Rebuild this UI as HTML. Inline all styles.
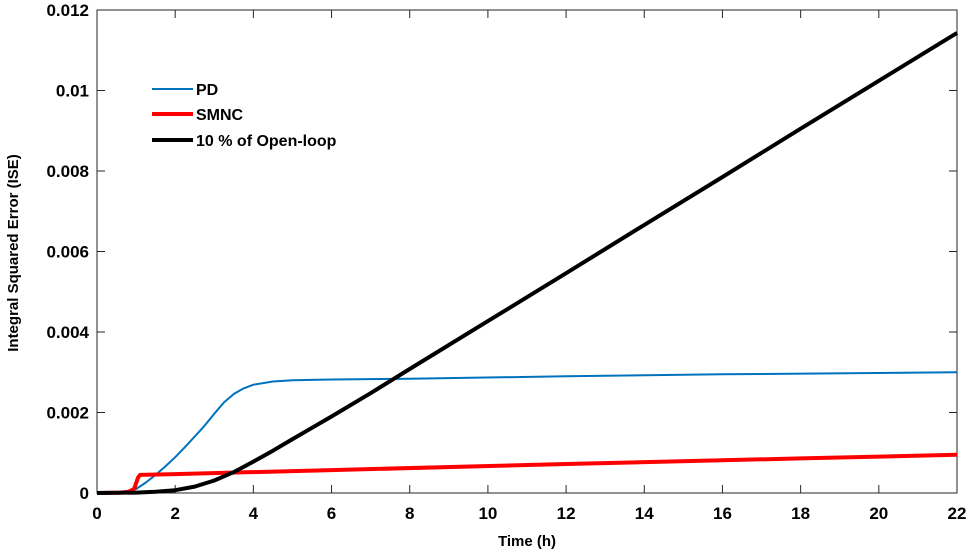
<!DOCTYPE html>
<html><head><meta charset="utf-8"><style>
body{margin:0;background:#fff;}
svg{display:block;font-family:"Liberation Sans",Arial,sans-serif;font-weight:bold;}
</style></head><body>
<svg id="chart" width="972" height="554">
<g id="axes"></g><g id="series"></g>
<g>
<line x1="152" y1="89" x2="193" y2="89" stroke="#0072BD" stroke-width="2"/>
<text x="196" y="95" font-size="16">PD</text>
<line x1="152" y1="114" x2="193" y2="114" stroke="#ff0000" stroke-width="4"/>
<text x="196" y="120" font-size="16">SMNC</text>
<line x1="152" y1="140" x2="193" y2="140" stroke="#000" stroke-width="4"/>
<text x="196" y="146" font-size="16">10 % of Open-loop</text>
</g>
<text x="527" y="546" font-size="15" text-anchor="middle">Time (h)</text>
<text transform="translate(18,253) rotate(-90)" font-size="15" text-anchor="middle">Integral Squared Error (ISE)</text>
</svg>
<script>
const xTicks=[0,2,4,6,8,10,12,14,16,18,20,22];
const yTicks=[0,0.002,0.004,0.006,0.008,0.01,0.012];
const yTickLabels=["0","0.002","0.004","0.006","0.008","0.01","0.012"];
const pdT=[0,0.5,0.7,0.85,1,1.25,1.5,1.75,2,2.25,2.5,2.75,3,3.25,3.5,3.75,4,4.5,5,6,8,12,16,22];
const pdV=[0,0,0.00001,0.00004,0.0001,0.00026,0.00045,0.00066,0.00089,0.00114,0.0014,0.00167,0.00197,0.00225,0.00246,0.0026,0.00269,0.00277,0.0028,0.00282,0.00284,0.0029,0.00295,0.0030];
const smT=[0,0.6,0.8,0.95,1.05,1.1,2,6,12,18,22];
const smV=[0,0.00001,0.00003,0.0001,0.00038,0.00045,0.00047,0.00057,0.00072,0.00086,0.00095];
const olT=[0,1,1.5,2,2.5,3,3.5,4,4.5,5,5.5,6,7,8,10,12,14,16,18,20,22];
const olV=[0,0.00001,0.00003,0.00007,0.00016,0.00031,0.00052,0.00078,0.00105,0.00134,0.00162,0.0019,0.00248,0.00308,0.00427,0.00546,0.00666,0.00785,0.00905,0.01024,0.01143];
const X0=97,X1=957,Y0=493,Y1=10;
const sx=t=>X0+(t/22)*(X1-X0);
const sy=v=>Y0-(v/0.012)*(Y0-Y1);
const NS="http://www.w3.org/2000/svg";
const axes=document.getElementById('axes'),series=document.getElementById('series');
function mk(tag,attrs,parent){const e=document.createElementNS(NS,tag);for(const k in attrs)e.setAttribute(k,attrs[k]);parent.appendChild(e);return e;}
const frame=mk('rect',{x:X0,y:Y1,width:X1-X0,height:Y0-Y1,fill:'none',stroke:'#262626','stroke-width':1},axes);


xTicks.forEach(t=>{
  const x=sx(t);
  mk('line',{x1:x,y1:Y0,x2:x,y2:Y0-8,stroke:'#262626'},axes);
  mk('line',{x1:x,y1:Y1,x2:x,y2:Y1+8,stroke:'#262626'},axes);
  const tx=mk('text',{x:x,y:Y0+26,'font-size':17,'text-anchor':'middle'},axes);
  tx.textContent=t;
  
  
});
yTicks.forEach((v,i)=>{
  const y=sy(v);
  mk('line',{x1:X0,y1:y,x2:X0+8,y2:y,stroke:'#262626'},axes);
  mk('line',{x1:X1,y1:y,x2:X1-8,y2:y,stroke:'#262626'},axes);
  const tx=mk('text',{x:X0-8,y:y+6,'font-size':17,'text-anchor':'end'},axes);
  tx.textContent=yTickLabels[i];
  
  
});
function line(T,V,color,w,name){
  const d=T.map((t,i)=>(i?'L':'M')+sx(t).toFixed(1)+','+sy(V[i]).toFixed(1)).join('');
  const p=mk('path',{d:d,fill:'none',stroke:color,'stroke-width':w,'stroke-linejoin':'round'},series);
  
  
}
line(pdT,pdV,'#0072BD',2,'pd-line');
line(smT,smV,'#ff0000',4,'smnc-line');
line(olT,olV,'#000',4,'openloop-line');
</script>
</body></html>
